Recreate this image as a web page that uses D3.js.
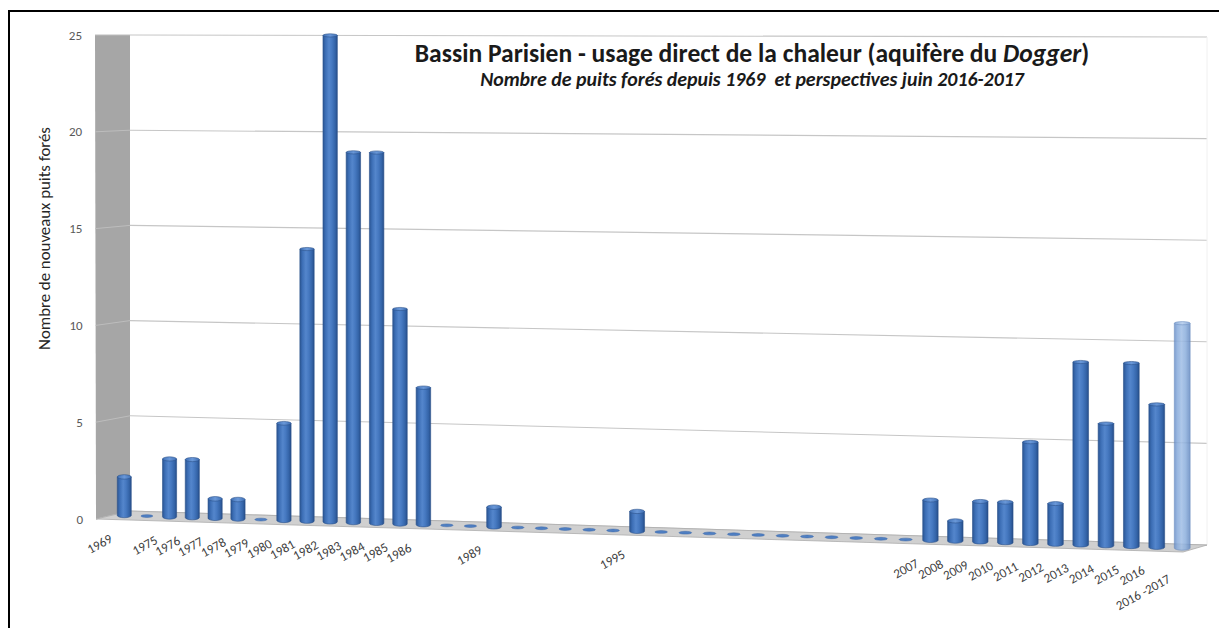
<!DOCTYPE html>
<html>
<head>
<meta charset="utf-8">
<script src="https://cdn.jsdelivr.net/npm/d3@7"></script>
<style>
  html, body { margin: 0; padding: 0; background: #fff; }
  svg { display: block; }
</style>
</head>
<body>
<svg id="chart" width="1219" height="628"></svg>
<script>
// ---- data -------------------------------------------------------------
// One slot per category on the 3D column axis (second slot is unlabeled).
const categories = [
  "1969", "", "1975", "1976", "1977", "1978", "1979", "1980", "1981", "1982",
  "1983", "1984", "1985", "1986", "1987", "1988", "1989", "1990", "1991", "1992",
  "1993", "1994", "1995", "1996", "1997", "1998", "1999", "2000", "2001", "2002",
  "2003", "2004", "2005", "2006", "2007", "2008", "2009", "2010", "2011", "2012",
  "2013", "2014", "2015", "2016", "2016 -2017"
];
// Number of new wells drilled per category
const wells = [
  2, 0, 3, 3, 1, 1, 0, 5, 14, 25,
  19, 19, 11, 7, 0, 0, 1, 0, 0, 0,
  0, 0, 1, 0, 0, 0, 0, 0, 0, 0,
  0, 0, 0, 0, 2, 1, 2, 2, 5, 2,
  9, 6, 9, 7, 11
];
// Categories that are forecasts rather than drilled wells
const forecastCategories = ["2016 -2017"];
// Category labels printed under the floor
const tickLabels = [
  "1969", "1975", "1976", "1977", "1978", "1979", "1980", "1981", "1982", "1983",
  "1984", "1985", "1986", "1989", "1995", "2007", "2008", "2009", "2010", "2011",
  "2012", "2013", "2014", "2015", "2016", "2016 -2017"
];
const valueTicks = [0, 5, 10, 15, 20, 25];

const titleMain = "Bassin Parisien - usage direct de la chaleur (aquifère du ";
const titleItalic = "Dogger";
const subtitle = "Nombre de puits forés depuis 1969  et perspectives juin 2016-2017";
const yTitle = "Nombre de nouveaux puits forés";

// ---- 3D box (screen corners of the plot cube) -------------------------
const box = {
  back:  { bl: [130, 511], tl: [130, 35], br: [1207, 545], tr: [1207, 37] },
  front: { bl: [96, 519],  tl: [95, 35],  br: [1183, 552], tr: [1183, 37] }
};
const lerp = (a, b, t) => a + (b - a) * t;
function face(f, u, v) {
  const bx = lerp(f.bl[0], f.br[0], u), by = lerp(f.bl[1], f.br[1], u);
  const tx = lerp(f.tl[0], f.tr[0], u), ty = lerp(f.tl[1], f.tr[1], u);
  return [lerp(bx, tx, v), lerp(by, ty, v)];
}
// u: along category axis, v: value fraction, d: depth (0 = back wall, 1 = front)
function project(u, v, d) {
  const p = face(box.back, u, v), q = face(box.front, u, v);
  return [lerp(p[0], q[0], d), lerp(p[1], q[1], d)];
}

const n = categories.length;
const band = d3.scaleBand().domain(d3.range(n)).range([0, 1]);
// perspective foreshortening: the right end of the axis is nearer, so wider
const warp = t => 0.9375 * t + 0.0625 * t * t;
const yScale = d3.scaleLinear().domain([0, 25]).range([0, 1]);

const svg = d3.select("#chart");
const defs = svg.append("defs");

function cylGradient(id, stops) {
  const g = defs.append("linearGradient").attr("id", id)
    .attr("x1", "0%").attr("x2", "100%").attr("y1", "0%").attr("y2", "0%");
  stops.forEach(([o, c]) => g.append("stop").attr("offset", o).attr("stop-color", c));
}
cylGradient("cylBody", [["0%", "#2a5593"], ["18%", "#3d6fb6"], ["42%", "#5486cc"], ["62%", "#4679c1"], ["85%", "#3464a8"], ["100%", "#264d88"]]);
cylGradient("cylTop", [["0%", "#3f70b6"], ["50%", "#6a98d8"], ["100%", "#3f70b6"]]);
cylGradient("cylBodyLight", [["0%", "#6a90c8"], ["20%", "#89acdc"], ["45%", "#a0bee6"], ["70%", "#8cafdd"], ["100%", "#6589c1"]]);
cylGradient("cylTopLight", [["0%", "#7ea2d4"], ["50%", "#b2cbec"], ["100%", "#7ea2d4"]]);

// ---- frame -------------------------------------------------------------
svg.append("rect").attr("x", 9).attr("y", 11).attr("width", 1240).attr("height", 640)
  .attr("fill", "none").attr("stroke", "#000").attr("stroke-width", 2);

// ---- back wall gridlines -----------------------------------------------
const gridG = svg.append("g");
valueTicks.forEach(v => {
  const a = project(0, yScale(v), 0), b = project(1, yScale(v), 0);
  gridG.append("line").attr("x1", a[0]).attr("y1", a[1]).attr("x2", b[0]).attr("y2", b[1])
    .attr("stroke", "#c6c6c6").attr("stroke-width", 1.1);
});
{
  const a = project(1, 0, 0), b = project(1, 1, 0);
  gridG.append("line").attr("x1", a[0]).attr("y1", a[1]).attr("x2", b[0]).attr("y2", b[1])
    .attr("stroke", "#f0f0f0").attr("stroke-width", 1);
}

// ---- side wall ----------------------------------------------------------
const wallPts = [project(0, 0, 0), project(0, 1, 0), project(0, 1, 1), project(0, 0, 1)];
svg.append("path").attr("d", "M" + wallPts.map(p => p.join(",")).join("L") + "Z")
  .attr("fill", "#a6a6a6");
valueTicks.forEach(v => {
  const a = project(0, yScale(v), 1), b = project(0, yScale(v), 0);
  svg.append("line").attr("x1", a[0]).attr("y1", a[1]).attr("x2", b[0]).attr("y2", b[1])
    .attr("stroke", "#bdbdbd").attr("stroke-width", 1);
});

// ---- floor ---------------------------------------------------------------
const floorPts = [project(0, 0, 0), project(1, 0, 0), project(1, 0, 1), project(0, 0, 1)];
svg.append("path").attr("d", "M" + floorPts.map(p => p.join(",")).join("L") + "Z")
  .attr("fill", "#d0d0d0").attr("stroke", "#acacac").attr("stroke-width", 0.8);

// ---- cylinders ------------------------------------------------------------
const barG = svg.append("g");
categories.forEach((cat, i) => {
  const bw = band.bandwidth();
  const tc = band(i) + bw / 2;
  const uc = warp(tc), uL = warp(tc - bw * 0.31), uR = warp(tc + bw * 0.31);
  const v = yScale(wells[i]);
  const [xl] = project(uL, 0, 0.5);
  const [xr] = project(uR, 0, 0.5);
  const [xc, yb] = project(uc, 0, 0.5);
  const [, yt] = project(uc, v, 0.5);
  const rx = (xr - xl) / 2;
  const ryAt = vv => Math.max(1.6, Math.abs(project(uc, vv, 0.8)[1] - project(uc, vv, 0.2)[1]) / 2);
  const ryB = ryAt(0), ryT = ryAt(v);
  const light = forecastCategories.includes(cat);

  if (wells[i] === 0) {
    barG.append("ellipse").attr("cx", xc).attr("cy", yb).attr("rx", rx * 0.85).attr("ry", 1.4)
      .attr("fill", "#4f7fc2").attr("stroke", "#3a67a8").attr("stroke-width", 0.5);
    return;
  }
  const g = barG.append("g").attr("opacity", light ? 0.85 : 1);
  g.append("path")
    .attr("d", `M${xc - rx},${yt} L${xc - rx},${yb} A${rx},${ryB} 0 0 0 ${xc + rx},${yb} L${xc + rx},${yt} Z`)
    .attr("fill", light ? "url(#cylBodyLight)" : "url(#cylBody)")
    .attr("stroke", light ? "#5b82bb" : "#2b528c").attr("stroke-width", 0.6);
  g.append("ellipse").attr("cx", xc).attr("cy", yt).attr("rx", rx).attr("ry", ryT)
    .attr("fill", light ? "url(#cylTopLight)" : "url(#cylTop)")
    .attr("stroke", light ? "#5b82bb" : "#2b528c").attr("stroke-width", 0.6);
});

// ---- value axis labels ------------------------------------------------------
const font = "Carlito, Calibri, Lato, 'Liberation Sans', sans-serif";
valueTicks.forEach(v => {
  const p = project(0, yScale(v), 1);
  svg.append("text").attr("x", p[0] - 13).attr("y", p[1] + 4.5)
    .attr("text-anchor", "end").attr("font-family", font).attr("font-size", 13)
    .attr("fill", "#595959").text(v);
});

// ---- category labels ---------------------------------------------------------
tickLabels.forEach(lab => {
  const i = categories.indexOf(lab);
  const bw = band.bandwidth();
  const u = warp(band(i) + bw / 2);
  const x = project(u, 0, 0.5)[0] - 11;
  const y = project(u, 0, 1)[1] + 22;
  const extra = lab.length > 4 ? 8 : 0;
  svg.append("text")
    .attr("transform", `translate(${x},${y + extra}) rotate(-29)`)
    .attr("text-anchor", "end").attr("font-family", font).attr("font-size", 13)
    .attr("fill", "#404040").style("white-space", "pre").text(lab);
});

// ---- titles --------------------------------------------------------------
function fitWidth(sel, target) {
  const fs = parseFloat(sel.attr("font-size"));
  const w = sel.node().getBBox().width;
  if (w > 0) sel.attr("font-size", fs * target / w);
}
const t1 = svg.append("text").attr("x", 752).attr("y", 62).attr("text-anchor", "middle")
  .attr("font-family", font).attr("font-weight", "bold").attr("font-size", 22).attr("fill", "#1a1a1a");
t1.append("tspan").text(titleMain);
t1.append("tspan").attr("font-style", "italic").text(titleItalic);
t1.append("tspan").text(")");
fitWidth(t1, 675);

const t2 = svg.append("text").attr("x", 752).attr("y", 86).attr("text-anchor", "middle")
  .attr("font-family", font).attr("font-weight", "bold").attr("font-style", "italic")
  .attr("font-size", 16).attr("fill", "#1a1a1a").style("white-space", "pre").text(subtitle);
fitWidth(t2, 545);

const t3 = svg.append("text").attr("transform", "translate(50,238.5) rotate(-90)")
  .attr("text-anchor", "middle").attr("font-family", font).attr("font-size", 13)
  .attr("fill", "#262626").text(yTitle);
fitWidth(t3, 223);
</script>
</body>
</html>
